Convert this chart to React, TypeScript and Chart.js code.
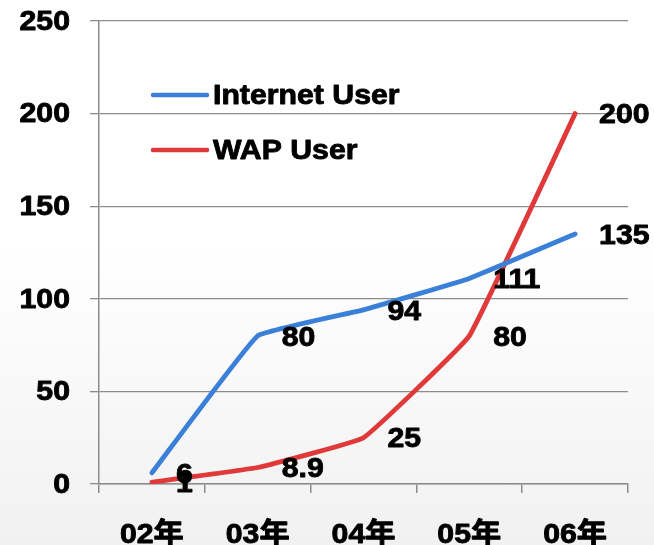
import React, { useEffect, useRef } from "react";
import { Chart, registerables } from "chart.js";

Chart.register(...registerables);

const categories = ["02年", "03年", "04年", "05年", "06年"];
const internetUsers = [6, 80, 94, 111, 135];
const wapUsers = [1, 8.9, 25, 80, 200];
const seriesNames = ["Internet User", "WAP User"];
const seriesColors = ["#3a80d8", "#e0393a"];
const yMin = 0;
const yMax = 250;
const yStep = 50;

const FONT_FAMILY = "'Liberation Sans', Arial, 'Noto Sans CJK SC', sans-serif";
const FONT_SIZE = 28;
const STRETCH = 1.08;

function drawText(ctx: CanvasRenderingContext2D, text: string, x: number, y: number, align: CanvasTextAlign) {
  ctx.save();
  ctx.translate(x, y);
  ctx.scale(STRETCH, 1);
  ctx.textAlign = align;
  ctx.textBaseline = "middle";
  ctx.lineWidth = 0.9;
  ctx.lineJoin = "round";
  ctx.strokeStyle = "#000";
  ctx.fillStyle = "#000";
  ctx.fillText(text, 0, 0);
  ctx.strokeText(text, 0, 0);
  ctx.restore();
}

export default function App() {
  const ref = useRef<HTMLCanvasElement>(null);

  useEffect(() => {
    document.body.style.margin = "0";
    const canvas = ref.current;
    if (!canvas) return;

    const overlay = {
      id: "overlay",
      afterDraw(chart: any) {
        const ctx = chart.ctx as CanvasRenderingContext2D;
        ctx.save();
        ctx.font = `bold ${FONT_SIZE}px ${FONT_FAMILY}`;
        // axis tick labels
        const ys = chart.scales.y;
        ys.ticks.forEach((t: any) => {
          drawText(ctx, String(t.value), 70, ys.getPixelForValue(t.value) + 1, "right");
        });
        const xs = chart.scales.x;
        categories.forEach((c, i) => {
          drawText(ctx, c, xs.getPixelForValue(i), 535, "center");
        });
        // data labels
        chart.data.datasets.forEach((ds: any, i: number) => {
          const meta = chart.getDatasetMeta(i);
          meta.data.forEach((pt: any, j: number) => {
            drawText(ctx, String(ds.data[j]), pt.x + 24, pt.y + 2, "left");
          });
        });
        // legend
        const { left, top } = chart.chartArea;
        chart.data.datasets.forEach((ds: any, i: number) => {
          const y = top + 74 + i * 55;
          ctx.strokeStyle = ds.borderColor;
          ctx.lineWidth = 4.5;
          ctx.lineCap = "round";
          ctx.beginPath();
          ctx.moveTo(left + 54, y);
          ctx.lineTo(left + 108, y);
          ctx.stroke();
          drawText(ctx, ds.label, left + 114, y + 1, "left");
        });
        ctx.restore();
      },
    };

    const chart = new Chart(canvas, {
      type: "line",
      data: {
        labels: categories,
        datasets: [
          {
            label: seriesNames[0],
            data: internetUsers,
            borderColor: seriesColors[0],
            backgroundColor: seriesColors[0],
            borderWidth: 4.8,
            pointRadius: 0,
            tension: 0.08,
            borderCapStyle: "round",
            borderJoinStyle: "round",
          },
          {
            label: seriesNames[1],
            data: wapUsers,
            borderColor: seriesColors[1],
            backgroundColor: seriesColors[1],
            borderWidth: 4.8,
            pointRadius: 0,
            tension: 0.08,
            borderCapStyle: "round",
            borderJoinStyle: "round",
          },
        ],
      },
      options: {
        responsive: false,
        animation: false,
        layout: { padding: { left: 0, right: 26, top: 21, bottom: 0 } },
        plugins: {
          legend: { display: false },
          tooltip: { enabled: false },
        },
        scales: {
          x: {
            offset: true,
            grid: {
              offset: true,
              drawOnChartArea: false,
              tickLength: 9,
              color: "#8c8c8c",
              lineWidth: 1.5,
            },
            border: { display: true, color: "#8c8c8c", width: 1.5 },
            ticks: { display: false },
            afterFit(scale: any) {
              scale.height = 61;
            },
          },
          y: {
            min: yMin,
            max: yMax,
            grid: {
              tickLength: 9,
              color: "#8c8c8c",
              lineWidth: 1.3,
            },
            border: { display: true, color: "#8c8c8c", width: 1.5 },
            ticks: { display: false, stepSize: yStep },
            afterFit(scale: any) {
              scale.width = 99;
            },
          },
        },
      },
      plugins: [overlay],
    });

    return () => chart.destroy();
  }, []);

  return (
    <div
      style={{
        width: 654,
        height: 545,
        background: "linear-gradient(to bottom, #ffffff 0%, #ffffff 45%, #f1f1f1 100%)",
      }}
    >
      <canvas ref={ref} width={654} height={545} style={{ display: "block" }} />
    </div>
  );
}
